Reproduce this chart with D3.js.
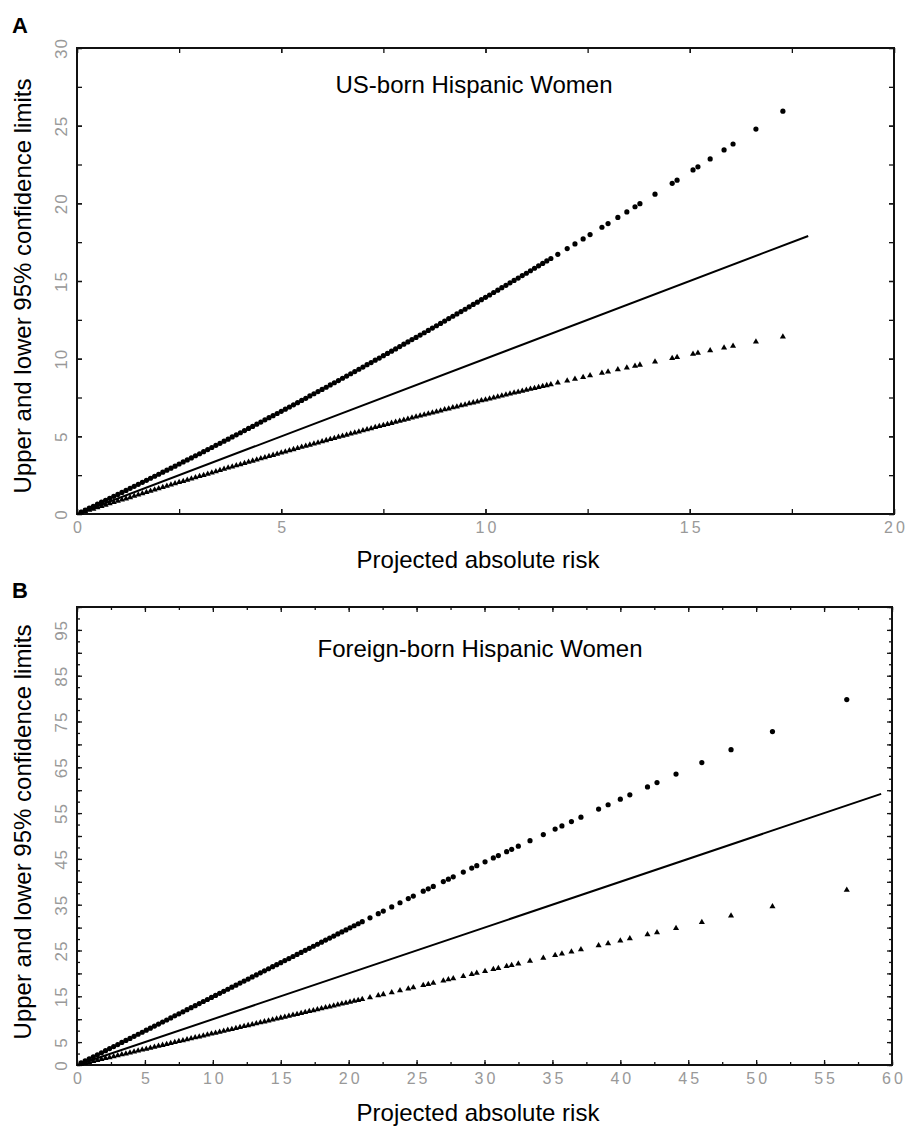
<!DOCTYPE html>
<html>
<head>
<meta charset="utf-8">
<script src="https://cdn.jsdelivr.net/npm/d3@7"></script>
<style>
body { margin: 0; background: #fff; }
svg text { font-family: "Liberation Sans", Arial, sans-serif; }
</style>
</head>
<body>
<svg id="chart" width="906" height="1126"></svg>
<script>
// ---- Panel A : US-born Hispanic women ----
const riskA = [0.1,0.2,0.3,0.4,0.5,0.6,0.7,0.8,0.9,1.0,1.1,1.2,1.3,1.4,1.5,1.6,1.7,1.8,1.9,2.0,
  2.1,2.2,2.3,2.4,2.5,2.6,2.7,2.8,2.9,3.0,3.1,3.2,3.3,3.4,3.5,3.6,3.7,3.8,3.9,4.0,
  4.1,4.2,4.3,4.4,4.5,4.6,4.7,4.8,4.9,5.0,5.1,5.2,5.3,5.4,5.5,5.6,5.7,5.8,5.9,6.0,
  6.1,6.2,6.3,6.4,6.5,6.6,6.7,6.8,6.9,7.0,7.1,7.2,7.3,7.4,7.5,7.6,7.7,7.8,7.9,8.0,
  8.1,8.2,8.3,8.4,8.5,8.6,8.7,8.8,8.9,9.0,9.1,9.2,9.3,9.4,9.5,9.6,9.7,9.8,9.9,10.0,
  10.1,10.2,10.3,10.4,10.5,10.6,10.7,10.8,10.9,11.0,11.1,11.2,11.3,11.4,11.5,11.6,
  11.77,12.0,12.19,12.39,12.56,12.85,13.0,13.24,13.46,13.66,13.78,14.15,14.57,14.69,
  15.08,15.2,15.5,15.84,16.06,16.62,17.28];
const upperA = [0.13,0.25,0.38,0.50,0.63,0.76,0.88,1.01,1.14,1.26,1.39,1.52,1.65,1.78,1.91,2.04,2.17,2.30,2.43,2.56,
  2.69,2.82,2.95,3.08,3.22,3.35,3.48,3.61,3.75,3.88,4.01,4.15,4.28,4.42,4.55,4.69,4.82,4.96,5.10,5.23,
  5.37,5.51,5.64,5.78,5.92,6.06,6.20,6.33,6.47,6.61,6.75,6.89,7.03,7.17,7.31,7.45,7.60,7.74,7.88,8.02,
  8.16,8.31,8.45,8.59,8.74,8.88,9.03,9.17,9.32,9.46,9.61,9.75,9.90,10.04,10.19,10.34,10.48,10.63,10.78,10.93,
  11.08,11.23,11.37,11.52,11.67,11.82,11.97,12.12,12.27,12.42,12.58,12.73,12.88,13.03,13.18,13.34,13.49,13.64,13.80,13.95,
  14.10,14.26,14.41,14.57,14.72,14.88,15.04,15.19,15.35,15.50,15.66,15.82,15.98,16.13,16.29,16.45,
  16.72,17.09,17.39,17.71,17.99,18.46,18.70,19.09,19.45,19.78,19.98,20.59,21.29,21.49,
  22.15,22.35,22.86,23.44,23.82,24.78,25.93];
const lowerA = [0.08,0.17,0.25,0.33,0.42,0.50,0.58,0.67,0.75,0.83,0.91,0.99,1.07,1.16,1.24,1.32,1.40,1.48,1.56,1.64,
  1.72,1.80,1.88,1.96,2.04,2.11,2.19,2.27,2.35,2.43,2.50,2.58,2.66,2.74,2.81,2.89,2.97,3.04,3.12,3.19,
  3.27,3.34,3.42,3.49,3.57,3.64,3.72,3.79,3.87,3.94,4.01,4.09,4.16,4.23,4.31,4.38,4.45,4.52,4.59,4.67,
  4.74,4.81,4.88,4.95,5.02,5.09,5.16,5.23,5.30,5.37,5.44,5.51,5.58,5.65,5.72,5.78,5.85,5.92,5.99,6.05,
  6.12,6.19,6.26,6.32,6.39,6.45,6.52,6.59,6.65,6.72,6.78,6.85,6.91,6.98,7.04,7.11,7.17,7.23,7.30,7.36,
  7.42,7.49,7.55,7.61,7.67,7.74,7.80,7.86,7.92,7.98,8.04,8.10,8.16,8.22,8.28,8.34,
  8.45,8.58,8.69,8.81,8.91,9.08,9.16,9.30,9.42,9.53,9.60,9.80,10.03,10.09,
  10.30,10.37,10.52,10.70,10.81,11.09,11.41];
const refLineA = [0, 17.9];
const xLabelsA = [0, 5, 10, 15, 20];
const yLabelsA = [0, 5, 10, 15, 20, 25, 30];

// ---- Panel B : Foreign-born Hispanic women ----
const riskB = [0.3,0.6,0.9,1.2,1.5,1.8,2.1,2.4,2.7,3.0,3.3,3.6,3.9,4.2,4.5,4.8,5.1,5.4,5.7,6.0,
  6.3,6.6,6.9,7.2,7.5,7.8,8.1,8.4,8.7,9.0,9.3,9.6,9.9,10.2,10.5,10.8,11.1,11.4,11.7,12.0,
  12.3,12.6,12.9,13.2,13.5,13.8,14.1,14.4,14.7,15.0,15.3,15.6,15.9,16.2,16.5,16.8,17.1,17.4,17.7,18.0,
  18.3,18.6,18.9,19.2,19.5,19.8,20.1,20.4,20.7,21.0,
  21.57,22.18,22.55,23.17,23.78,24.39,24.76,25.49,25.86,26.23,26.97,27.34,27.7,28.44,29.06,29.43,
  30.04,30.65,31.02,31.63,32.0,32.49,33.35,34.33,35.2,35.7,36.4,37.1,38.4,39.1,40.0,40.7,
  42.0,42.7,44.1,46.0,48.15,51.2,56.67];
const upperB = [0.45,0.89,1.34,1.79,2.24,2.68,3.13,3.58,4.02,4.47,4.92,5.36,5.81,6.26,6.71,7.15,7.60,8.05,8.49,8.94,
  9.39,9.83,10.28,10.73,11.18,11.62,12.07,12.52,12.96,13.41,13.86,14.30,14.75,15.20,15.65,16.09,16.54,16.99,17.43,17.88,
  18.33,18.77,19.22,19.67,20.12,20.56,21.01,21.46,21.90,22.35,22.80,23.24,23.69,24.14,24.59,25.03,25.48,25.93,26.37,26.82,
  27.27,27.71,28.16,28.61,29.06,29.50,29.95,30.40,30.84,31.29,
  32.14,33.05,33.60,34.52,35.43,36.34,36.89,37.95,38.47,39.00,40.05,40.57,41.08,42.12,42.99,43.51,
  44.37,45.22,45.73,46.58,47.10,47.78,48.97,50.32,51.51,52.20,53.16,54.11,55.88,56.82,58.04,58.98,
  60.72,61.66,63.52,66.03,68.84,72.80,79.78];
const lowerB = [0.21,0.41,0.62,0.83,1.03,1.24,1.45,1.65,1.86,2.07,2.27,2.48,2.69,2.89,3.10,3.31,3.51,3.72,3.92,4.13,
  4.34,4.54,4.75,4.95,5.16,5.36,5.57,5.78,5.98,6.19,6.39,6.60,6.80,7.01,7.21,7.42,7.62,7.83,8.03,8.24,
  8.44,8.65,8.85,9.06,9.26,9.47,9.67,9.88,10.08,10.29,10.49,10.70,10.90,11.10,11.31,11.51,11.72,11.92,12.13,12.33,
  12.53,12.74,12.94,13.14,13.35,13.55,13.76,13.96,14.16,14.37,
  14.75,15.17,15.42,15.84,16.25,16.66,16.91,17.41,17.65,17.91,18.41,18.65,18.90,19.40,19.81,20.07,
  20.47,20.89,21.13,21.54,21.79,22.12,22.70,23.36,23.94,24.28,24.75,25.21,26.08,26.55,27.15,27.62,
  28.49,28.95,29.88,31.15,32.57,34.59,38.20];
const refLineB = [0, 59.2];
const xLabelsB = [0, 5, 10, 15, 20, 25, 30, 35, 40, 45, 50, 55, 60];
const yLabelsB = [0, 5, 15, 25, 35, 45, 55, 65, 75, 85, 95];

const svg = d3.select("#chart");

function drawPanel(p) {
    let g = svg.append("g");
    let x = d3.scaleLinear().domain([0, p.xMax]).range([p.left, p.right]);
    let y = d3.scaleLinear().domain([0, p.yMax]).range([p.bottom, p.top]);

    // inward ticks on all four sides
    let minorX = d3.range(0, p.xMax + 0.01, 2.5);
    let minorY = d3.range(0, p.yMax + 0.01, 2.5);
    let majorX = minorX.filter(d => d % 5 == 0);
    let majorY = minorY.filter(d => d % 5 == 0);
    let sets = [[minorX, minorY, p.minorLen], [majorX, majorY, p.majorLen]];
    sets.forEach(function(s) {
        g.append("g").attr("transform", "translate(0," + p.bottom + ")")
            .call(d3.axisBottom(x).tickValues(s[0]).tickSize(-s[2]).tickFormat(""));
        g.append("g").attr("transform", "translate(0," + p.top + ")")
            .call(d3.axisTop(x).tickValues(s[0]).tickSize(-s[2]).tickFormat(""));
        g.append("g").attr("transform", "translate(" + p.left + ",0)")
            .call(d3.axisLeft(y).tickValues(s[1]).tickSize(-s[2]).tickFormat(""));
        g.append("g").attr("transform", "translate(" + p.right + ",0)")
            .call(d3.axisRight(y).tickValues(s[1]).tickSize(-s[2]).tickFormat(""));
    });
    g.selectAll(".domain").remove();
    g.selectAll(".tick line").attr("stroke", "#111").attr("stroke-width", 1.3);

    // tick labels
    let xl = g.append("g").attr("transform", "translate(0," + p.bottom + ")")
        .call(d3.axisBottom(x).tickValues(p.xLabels).tickSize(0).tickPadding(8).tickFormat(d3.format("d")));
    xl.select(".domain").remove();
    xl.selectAll("text").attr("fill", "#999").attr("font-size", 16)
        .attr("letter-spacing", 3).attr("dx", 1.5)
        .style("font-family", "'Liberation Sans', Arial, sans-serif");

    let yl = g.append("g").attr("transform", "translate(" + p.left + ",0)")
        .call(d3.axisLeft(y).tickValues(p.yLabels).tickSize(0).tickFormat(d3.format("d")));
    yl.select(".domain").remove();
    yl.selectAll("text").attr("x", null).attr("dy", null)
        .attr("text-anchor", "middle").attr("fill", "#999").attr("font-size", 17)
        .attr("letter-spacing", 1)
        .attr("transform", "translate(-10,0) rotate(-90)")
        .style("font-family", "'Liberation Sans', Arial, sans-serif");

    // frame
    g.append("rect")
        .attr("x", p.left).attr("y", p.top)
        .attr("width", p.right - p.left).attr("height", p.bottom - p.top)
        .attr("fill", "none").attr("stroke", "#111").attr("stroke-width", 2);

    // projected risk reference line
    let line = d3.line().x(d => x(d)).y(d => y(d));
    g.append("path").datum(p.ref)
        .attr("d", line).attr("fill", "none")
        .attr("stroke", "#000").attr("stroke-width", 2);

    // upper limits (circles)
    g.selectAll("circle.up").data(p.risk).enter().append("circle")
        .attr("class", "up")
        .attr("cx", d => x(d))
        .attr("cy", (d, i) => y(p.upper[i]))
        .attr("r", 2.6).attr("fill", "#000");

    // lower limits (triangles)
    let tri = d3.symbol().type(d3.symbolTriangle).size(16);
    g.selectAll("path.low").data(p.risk).enter().append("path")
        .attr("class", "low")
        .attr("d", tri)
        .attr("transform", (d, i) => "translate(" + x(d) + "," + y(p.lower[i]) + ")")
        .attr("fill", "#000");

    // texts
    g.append("text").text(p.letter)
        .attr("x", 12).attr("y", p.letterY)
        .attr("font-size", 22).attr("font-weight", "bold");
    g.append("text").text(p.title)
        .attr("x", p.titleX).attr("y", p.titleY)
        .attr("text-anchor", "middle").attr("font-size", 24);
    g.append("text").text("Projected absolute risk")
        .attr("x", 478).attr("y", p.xTitleY)
        .attr("text-anchor", "middle").attr("font-size", 24);
    g.append("text").text("Upper and lower 95% confidence limits")
        .attr("transform", "translate(31," + p.yTitleY + ") rotate(-90)")
        .attr("text-anchor", "middle").attr("font-size", 24);
}

drawPanel({
    left: 77, right: 894, top: 48, bottom: 514,
    xMax: 20, yMax: 30, minorLen: 5, majorLen: 5,
    risk: riskA, upper: upperA, lower: lowerA, ref: refLineA,
    xLabels: xLabelsA, yLabels: yLabelsA,
    letter: "A", letterY: 33,
    title: "US-born Hispanic Women", titleX: 474, titleY: 93,
    xTitleY: 568, yTitleY: 286
});

drawPanel({
    left: 77, right: 892, top: 607, bottom: 1065,
    xMax: 60, yMax: 100, minorLen: 3, majorLen: 5,
    risk: riskB, upper: upperB, lower: lowerB, ref: refLineB,
    xLabels: xLabelsB, yLabels: yLabelsB,
    letter: "B", letterY: 598,
    title: "Foreign-born Hispanic Women", titleX: 480, titleY: 657,
    xTitleY: 1121, yTitleY: 832
});
</script>
</body>
</html>
